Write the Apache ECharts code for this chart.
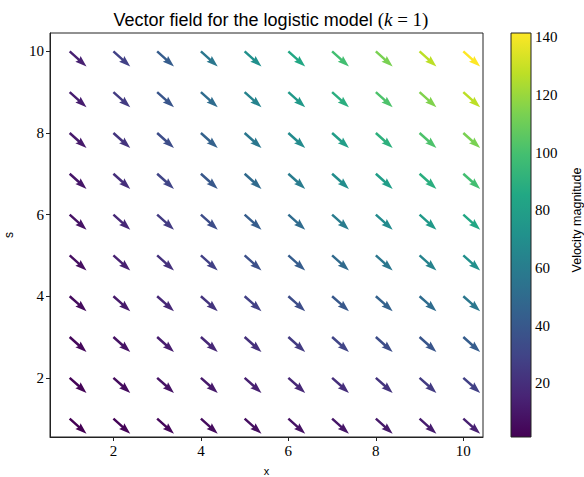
<!DOCTYPE html>
<html>
<head>
<meta charset="utf-8">
<script src="https://cdn.jsdelivr.net/npm/echarts@6/dist/echarts.min.js"></script>
<style>html,body{margin:0;padding:0;background:#fff;}#c{width:584px;height:477px;}</style>
</head>
<body>
<div id="c"></div>
<script>
// Grid positions (x and s values of arrow tails)
const xValues = [1, 2, 3, 4, 5, 6, 7, 8, 9, 10];
const sValues = [1, 2, 3, 4, 5, 6, 7, 8, 9, 10];
// Velocity magnitude; rows are s = 1..10, columns x = 1..10
const magnitude = [
  [1.4, 2.8, 4.2, 5.7, 7.1, 8.5, 9.9, 11.3, 12.7, 14.1],
  [2.8, 5.7, 8.5, 11.3, 14.1, 17.0, 19.8, 22.6, 25.5, 28.3],
  [4.2, 8.5, 12.7, 17.0, 21.2, 25.5, 29.7, 33.9, 38.2, 42.4],
  [5.7, 11.3, 17.0, 22.6, 28.3, 33.9, 39.6, 45.3, 50.9, 56.6],
  [7.1, 14.1, 21.2, 28.3, 35.4, 42.4, 49.5, 56.6, 63.6, 70.7],
  [8.5, 17.0, 25.5, 33.9, 42.4, 50.9, 59.4, 67.9, 76.4, 84.9],
  [9.9, 19.8, 29.7, 39.6, 49.5, 59.4, 69.3, 79.2, 89.1, 99.0],
  [11.3, 22.6, 33.9, 45.3, 56.6, 67.9, 79.2, 90.5, 101.8, 113.1],
  [12.7, 25.5, 38.2, 50.9, 63.6, 76.4, 89.1, 101.8, 114.6, 127.3],
  [14.1, 28.3, 42.4, 56.6, 70.7, 84.9, 99.0, 113.1, 127.3, 141.4]
];
// Normalised arrow direction/length in data units (all arrows identical)
const arrowU = 0.385;
const arrowV = -0.37;
const magMin = 1.414, magMax = 141.42;
const xTicks = [2, 4, 6, 8, 10];
const yTicks = [2, 4, 6, 8, 10];
const cbTicks = [20, 40, 60, 80, 100, 120, 140];

const viridis = ['#440154','#482475','#414487','#355f8d','#2a788e','#21918c','#22a884','#44bf70','#7ad151','#bddf26','#fde725'];
function hex(c){return [parseInt(c.slice(1,3),16),parseInt(c.slice(3,5),16),parseInt(c.slice(5,7),16)];}
function colorFor(v){
  let t = (v - magMin) / (magMax - magMin);
  t = Math.max(0, Math.min(1, t));
  const p = t * (viridis.length - 1);
  const i = Math.min(Math.floor(p), viridis.length - 2);
  const f = p - i;
  const a = hex(viridis[i]), b = hex(viridis[i+1]);
  const r = a.map((x,k)=>Math.round(x + (b[k]-x)*f));
  return 'rgb(' + r.join(',') + ')';
}

const arrowData = [];
sValues.forEach((s, si) => xValues.forEach((x, xi) => arrowData.push([x, s, magnitude[si][xi]])));

const serif = 'Liberation Serif';
const sans = 'Liberation Sans';

const chart = echarts.init(document.getElementById('c'), null, {renderer: 'svg'});
chart.setOption({
  animation: false,
  backgroundColor: '#fff',
  title: {
    text: '{a|Vector field for the logistic model }{b|(}{c|k}{b| = 1)}',
    left: 266, top: 5, textAlign: 'center',
    textStyle: {
      fontWeight: 'normal',
      rich: {
        a: {fontFamily: sans, fontSize: 18, fontWeight: 'normal', color: '#000'},
        b: {fontFamily: serif, fontSize: 19, fontWeight: 'normal', color: '#000'},
        c: {fontFamily: serif, fontSize: 19, fontStyle: 'italic', fontWeight: 'normal', color: '#000'}
      }
    }
  },
  grid: [
    {left: 50, top: 33, width: 433, height: 404, show: true, borderColor: '#222', borderWidth: 1, backgroundColor: 'transparent', outerBoundsMode: 'none', containLabel: false},
    {left: 511, top: 33, width: 20, height: 404, show: false, outerBoundsMode: 'none', containLabel: false}
  ],
  xAxis: [
    {type: 'value', gridIndex: 0, min: 0.55, max: 10.45,
     name: 'x', nameLocation: 'middle', nameGap: 28,
     nameTextStyle: {fontFamily: sans, fontSize: 11, lineHeight: 11, color: '#000'},
     axisLine: {show: true, onZero: false, lineStyle: {color: '#222', width: 1}},
     axisTick: {show: true, length: 4, customValues: xTicks, lineStyle: {color: '#222'}},
     axisLabel: {customValues: xTicks, fontFamily: serif, fontSize: 15, color: '#000', margin: 6},
     splitLine: {show: false}},
    {type: 'value', gridIndex: 1, min: 0, max: 1, show: false}
  ],
  yAxis: [
    {type: 'value', gridIndex: 0, min: 0.55, max: 10.45,
     name: 's', nameLocation: 'middle', nameGap: 35, nameRotate: 90,
     nameTextStyle: {fontFamily: sans, fontSize: 12, color: '#000'},
     axisLine: {show: true, onZero: false, lineStyle: {color: '#222', width: 1}},
     axisTick: {show: true, length: 4, customValues: yTicks, lineStyle: {color: '#222'}},
     axisLabel: {customValues: yTicks, fontFamily: serif, fontSize: 15, color: '#000', margin: 6},
     splitLine: {show: false}},
    {type: 'value', gridIndex: 1, min: magMin, max: magMax, position: 'right',
     axisLine: {show: false},
     axisTick: {show: true, length: 4, customValues: cbTicks, lineStyle: {color: '#222'}},
     axisLabel: {customValues: cbTicks, fontFamily: serif, fontSize: 15, color: '#000', margin: 4},
     splitLine: {show: false}}
  ],
  graphic: [
    {type: 'text', x: 577, y: 220, rotation: Math.PI / 2,
     style: {text: 'Velocity magnitude', fontFamily: sans, fontSize: 12.5, fill: '#000', align: 'center', verticalAlign: 'middle'}}
  ],
  series: [
    {
      type: 'custom', xAxisIndex: 0, yAxisIndex: 0, data: arrowData,
      clip: false,
      renderItem: function (params, api) {
        const x = api.value(0), s = api.value(1), m = api.value(2);
        const t = api.coord([x, s]);
        const h = api.coord([x + arrowU, s + arrowV]);
        const dx = h[0] - t[0], dy = h[1] - t[1];
        const L = Math.sqrt(dx*dx + dy*dy);
        const ux = dx / L, uy = dy / L;
        const nx = -uy, ny = ux;
        const w = 1.25, hw = 3.9, hl = 11.5, hal = 10.3;
        const sx = h[0] - ux*hal, sy = h[1] - uy*hal;
        const bx = h[0] - ux*hl, by = h[1] - uy*hl;
        const pts = [
          [t[0] + nx*w, t[1] + ny*w],
          [sx + nx*w, sy + ny*w],
          [bx + nx*hw, by + ny*hw],
          [h[0], h[1]],
          [bx - nx*hw, by - ny*hw],
          [sx - nx*w, sy - ny*w],
          [t[0] - nx*w, t[1] - ny*w]
        ];
        return {type: 'polygon', shape: {points: pts}, style: {fill: colorFor(m)}};
      }
    },
    {
      type: 'custom', xAxisIndex: 1, yAxisIndex: 1, data: [[0, magMin, magMax]],
      renderItem: function (params, api) {
        const p0 = api.coord([0, api.value(2)]);
        const p1 = api.coord([1, api.value(1)]);
        const stops = viridis.map((c, i) => ({offset: i / (viridis.length - 1), color: c}));
        return {
          type: 'rect',
          shape: {x: p0[0], y: p0[1], width: p1[0] - p0[0], height: p1[1] - p0[1]},
          style: {
            fill: new echarts.graphic.LinearGradient(0, 1, 0, 0, stops),
            stroke: '#222', lineWidth: 1
          }
        };
      }
    }
  ]
});
</script>
</body>
</html>
